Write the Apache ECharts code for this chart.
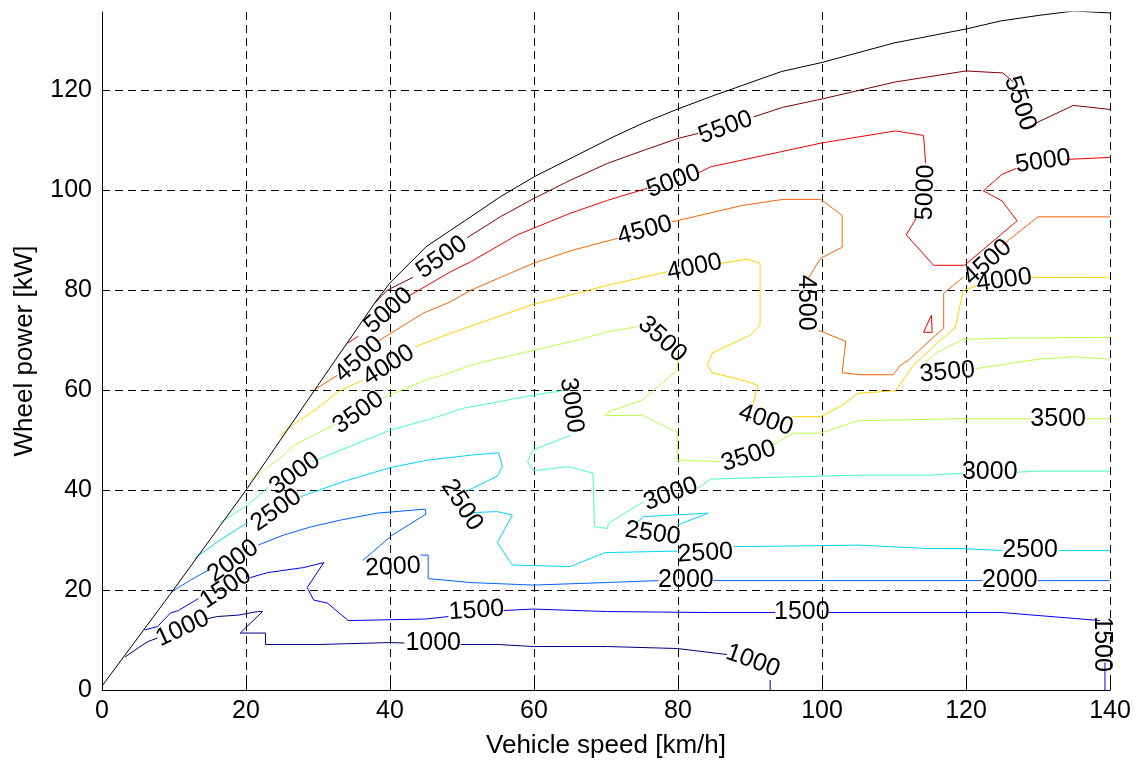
<!DOCTYPE html>
<html>
<head>
<meta charset="utf-8">
<script src="https://cdn.jsdelivr.net/npm/echarts@6/dist/echarts.min.js"></script>
<style>html,body{margin:0;padding:0;background:#fff}#chart{width:1140px;height:765px}</style>
</head>
<body>
<div id="chart"></div>
<script>
// ---- data (x: vehicle speed km/h, y: wheel power kW) ----
const levels = [1000, 1500, 2000, 2500, 3000, 3500, 4000, 4500, 5000, 5500];
const levelColors = ['#000080', '#0000F1', '#0063FF', '#00D4FF', '#47FFB8', '#B8FF47', '#FFD400', '#FF6300', '#F10000', '#800000'];

const envelope = [[0,0.8],[10,20.2],[20,40],[30,61],[38,77.7],[40,81.5],[45,88.7],[48.4,92],[51.2,94.7],[55.3,98.7],[60,102.7],[65.5,106.7],[71,110.7],[75.2,113.5],[80,116.3],[85,119],[94.4,123.8],[100,125.6],[110,129.5],[120,132.3],[124.8,133.9],[130,135],[135,135.9],[140,135.5]];

const c1000 = [
  [[3.2,6.6],[5.1,8.5],[6.4,9.7],[7.7,10.4]],
  [[14.4,14.2],[16,14.7],[19,15],[21.6,15.7],[22.3,15.7],[19.2,11.4],[22.7,11.4],[22.7,9.1],[30,9.1],[40,9.5],[42,9.4]],
  [[49.8,9.1],[55.1,9.1],[59.9,8.7],[70.2,8.7],[79.9,8.3],[86.8,7.1]],
  [[92.8,2],[92.8,0]]
];
const c1500 = [
  [[5.9,12],[7.7,12.7],[9.5,15.4],[10.6,15.9],[13.4,18.3]],
  [[20.6,22.5],[23,23.5],[28,24.5],[30.8,25.5],[28.5,20.5],[29.4,18],[31.3,17.4],[34.2,13.9],[44.9,14.2],[48.1,14.7]],
  [[55.8,15.9],[59.8,16.2],[70.2,15.7],[84.5,15.5],[93.5,15.5]],
  [[100.9,15.5],[125,15.5],[138.6,13.9]],
  [[139.3,5.5],[139.3,0]]
];
const c2000 = [
  [[9.6,19.6],[12.3,22],[14.8,24]],
  [[21.7,29],[25.2,31],[28.9,32.6],[33.1,34],[38.2,35.4],[44.9,36.2],[45,35.2],[40.3,31],[36.2,25.9]],
  [[44.2,27],[45.3,27],[45.3,22.3],[51.2,21.5],[59.9,21],[69.9,21.5],[77.3,21.9]],
  [[84.9,21.9],[122.3,21.9]],
  [[130,21.9],[140,21.9]]
];
const c2500 = [
  [[12.9,26.4],[16.4,30],[20.2,33.5]],
  [[27.6,38.7],[33.5,41.7],[40,44.5],[45.2,46],[51.2,47],[55.1,47.5],[55.6,44.7],[54.9,42.8],[50.8,39.9]],
  [[51.2,35.5],[54.9,35.7],[57,35],[54.9,29.5],[57,25],[65,24.7],[69.9,27.5],[79.9,27.8]],
  [[87.7,28.7],[94.6,28.8],[105,29],[115,28.3],[119.6,28.3],[125,27.9]],
  [[132.9,27.9],[140,27.9]],
  [[74.1,33.3],[75.2,34.7],[84.2,35.4],[79.9,33]]
];
const c3000 = [
  [[16.4,33.5],[20.2,37],[23.1,40.6]],
  [[29.2,45.7],[34.2,48.6],[40,52],[46,54.4],[50.2,56.4],[59.9,59],[64.3,60]],
  [[65.1,51],[59.8,48],[59.1,45.7],[59.9,43.9],[64.8,44.7],[68.2,43.4],[68.4,32.7],[70.2,32.3],[70.3,33.3],[75.2,37.7]],
  [[82.8,40.4],[84.5,42.2],[94.2,42.6],[105,43],[115,43],[119.6,43.4]],
  [[127.1,43.6],[130,43.8],[140,43.8]]
];
const c3500 = [
  [[20.6,42],[25,46.7],[26.6,48.9],[30.1,51.5],[32.2,53]],
  [[39.1,58.5],[44.9,62],[48.4,63.5],[51.2,65],[54,66],[66,70],[70.2,71.7],[74.3,72.7]],
  [[79.9,67.5],[79.9,64],[75,58],[70.2,55.6],[69.9,54.9],[75,55],[79.9,51.6],[79.9,46],[85.9,45.7]],
  [[92.8,48.7],[96,51.4],[99.8,51.4],[105,53.9],[119.6,54.3],[129,54.3]],
  [[136.6,54.3],[140,54.3]],
  [[140,70.6],[125,70.4],[119.6,70.2],[116,67.6],[114.4,65.6]],
  [[121.3,64.3],[130,66.2],[135,66.7],[140,66.2]]
];
const c4000 = [
  [[24.6,50.5],[25.5,52],[29.9,56.4],[32.8,59.7],[36.2,62]],
  [[43.5,68.7],[48.4,71.4],[59.9,77.2],[66,79.4],[70.2,81],[78.5,83.7]],
  [[85.9,85.4],[89.6,86.2],[91.4,85.4],[91.4,73],[90,71],[84.7,67.4],[84.1,65],[84.7,63.5],[89,62],[91.1,61],[90.3,56.7]],
  [[95.8,54.7],[99.8,54.7],[102.8,57],[105,59.4],[110.2,59.9],[112.7,65],[116.4,70],[118.5,72.4],[119.6,79.9],[121.6,81]],
  [[128.6,82.6],[140,82.6]]
];
const c4500 = [
  [[29.6,60.2],[32.7,63]],
  [[38.2,69.7],[44.6,75.4],[48.4,77.7],[51.2,80],[59.9,85.4],[65.3,88],[71.6,90.4]],
  [[79.2,93.7],[89,97],[94.6,98.2],[99.8,98.2],[102.8,95],[102.8,88.6],[99.8,86.4],[98.1,82.4]],
  [[99.5,72],[103.3,69.8],[102.8,63.5],[105.3,63.1],[109.9,63.1],[110.9,65],[112,66],[115,70],[116.9,72.4],[116.9,79.4],[119.6,82.6]],
  [[125,89],[130,94.7],[140,94.7]]
];
const c5000 = [
  [[34.1,69.4],[35.6,70.8]],
  [[42.8,79],[48.4,83.7],[51.2,85.7],[57.7,91.1],[65,95.4],[70.2,98],[75.7,100.4]],
  [[82.7,103.4],[84.5,104.7],[94.2,107.7],[100,109.5],[110.2,111.9],[114.1,111],[114.4,105.4]],
  [[113.2,94.7],[111.7,91.1],[115.5,85],[119.8,85],[127.1,93.9],[125,97.9],[122.4,99.9],[125,103.2],[127,104.4]],
  [[134,106.2],[140,106.6]],
  [[114.1,71.6],[115.3,71.6],[115.2,75],[114.1,71.6]]
];
const c5500 = [
  [[37.8,77.3],[39.6,80],[43.2,82.6]],
  [[50.7,90.5],[55.3,94.7],[60,98.4],[65,102],[70.2,105.4],[75.2,108],[80,110.4],[82.8,111.4]],
  [[90.5,114.7],[94.5,116.6],[100,118.3],[110.2,121.7],[120,123.9],[125.1,123.5],[126.6,121.7]],
  [[129.6,113.4],[134.9,117],[140,116.2]]
];
const contours = [c1000, c1500, c2000, c2500, c3000, c3500, c4000, c4500, c5000, c5500];

// contour labels: [x, y, text, angle]
const contourLabels = [
  [11.2,12.3,1000,25],[46,9.3,1000,0],[90.4,5.8,1000,-20],
  [17.2,20.4,1500,33],[52,15.9,1500,4],[97.2,15.5,1500,0],[138.9,9.2,1500,-90],
  [18.2,25.8,2000,35],[40.4,24.6,2000,3],[81.1,21.9,2000,0],[126.1,21.9,2000,0],
  [24.2,36,2500,35],[50,37,2500,-57],[76.5,31.3,2500,-8],[83.8,27.4,2500,3],[128.9,27.9,2500,0],
  [26.8,43.3,3000,35],[65.2,57,3000,-82],[79,39.2,3000,20],[123.3,43.6,3000,0],
  [35.6,55.5,3500,35],[77.8,70.2,3500,-42],[89.8,46.8,3500,18],[132.8,54.3,3500,0],[117.4,63.6,3500,5],
  [39.8,65,4000,32],[82.3,84.6,4000,12],[92.2,54,4000,-18],[125.3,82,4000,8],
  [35.7,66.2,4500,42],[75.4,92,4500,15],[97.7,77.5,4500,-90],[123,85.6,4500,42],
  [39.8,75.9,5000,42],[79.4,101.8,5000,20],[114.4,99.6,5000,88],[130.7,105.8,5000,8],
  [47.2,86.6,5500,35],[86.6,112.6,5500,20],[127.5,117.4,5500,-72]
];

const xName = 'Vehicle speed [km/h]';
const yName = 'Wheel power [kW]';

// ---- chart ----
const FONT = '"Liberation Sans", Arial, Helvetica, sans-serif';
const series = [];
contours.forEach((segs, li) => {
  segs.forEach(seg => {
    series.push({
      type: 'line', data: seg, symbol: 'none', showSymbol: false, silent: true,
      lineStyle: { color: levelColors[li], width: 1 }, z: 3
    });
  });
});
series.push({
  type: 'line', data: envelope, symbol: 'none', showSymbol: false, silent: true,
  lineStyle: { color: '#000', width: 1 }, z: 4
});
series.push({
  type: 'custom', data: contourLabels, clip: false, silent: true, z: 5,
  renderItem: function (params, api) {
    const p = api.coord([api.value(0), api.value(1)]);
    return {
      type: 'text', x: p[0], y: p[1], rotation: api.value(3) * Math.PI / 180,
      style: { text: String(api.value(2)), fill: '#000', font: '25px ' + FONT, align: 'center', verticalAlign: 'middle' }
    };
  }
});

const chart = echarts.init(document.getElementById('chart'), null, { renderer: 'canvas' });
chart.setOption({
  animation: false,
  backgroundColor: '#fff',
  grid: { left: 102, top: 12, width: 1008, height: 678, containLabel: false },
  xAxis: {
    type: 'value', min: 0, max: 140, interval: 20,
    name: xName, nameLocation: 'middle', nameGap: 43,
    nameTextStyle: { fontSize: 26, color: '#000', fontFamily: FONT },
    axisLine: { show: true, onZero: false, lineStyle: { color: '#000', width: 1 } },
    axisTick: { show: true, inside: true, length: 8, lineStyle: { color: '#000' } },
    axisLabel: { color: '#000', fontSize: 25, fontFamily: FONT, margin: 9 },
    splitLine: { show: true, showMinLine: false, lineStyle: { color: '#000', width: 1, type: [8, 5] } }
  },
  yAxis: {
    type: 'value', min: 0, max: 135.7, interval: 20,
    name: yName, nameLocation: 'middle', nameGap: 64, nameRotate: 90,
    nameTextStyle: { fontSize: 26, color: '#000', fontFamily: FONT },
    axisLine: { show: true, onZero: false, lineStyle: { color: '#000', width: 1 } },
    axisTick: { show: true, inside: true, length: 8, lineStyle: { color: '#000' } },
    axisLabel: { color: '#000', fontSize: 25, fontFamily: FONT, margin: 10, showMaxLabel: false },
    splitLine: { show: true, showMinLine: false, showMaxLine: false, lineStyle: { color: '#000', width: 1, type: [8, 5] } }
  },
  series: series
});
</script>
</body>
</html>
